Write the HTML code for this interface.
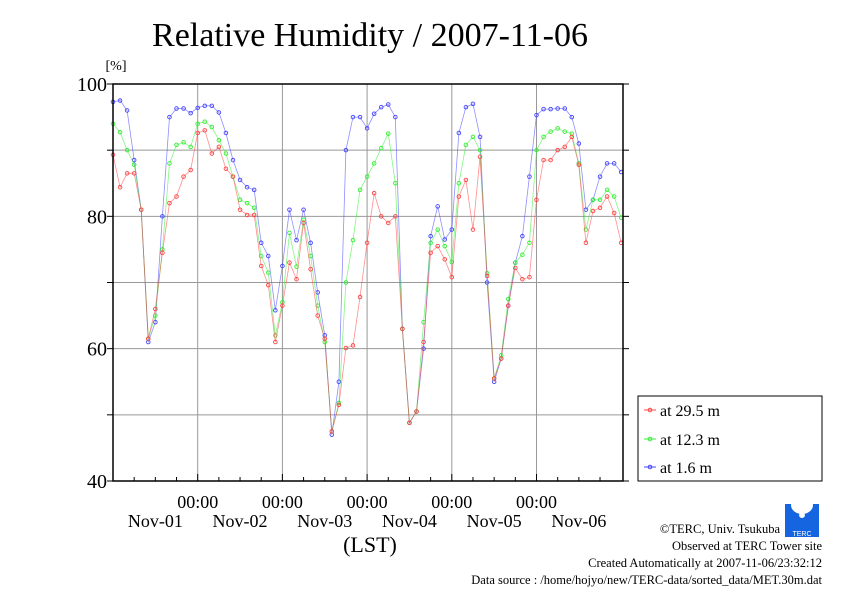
<!DOCTYPE html>
<html><head><meta charset="utf-8"><style>
body{margin:0;background:#fff}
svg text{font-family:"Liberation Serif",serif;fill:#000}
</style></head><body>
<svg id="chart" width="842" height="595" viewBox="0 0 842 595" xmlns="http://www.w3.org/2000/svg">
<rect width="842" height="595" fill="#fff"/>
<text x="370" y="46" font-size="34" text-anchor="middle">Relative Humidity / 2007-11-06</text>
<text x="116" y="70" font-size="14" text-anchor="middle">[%]</text>
<g id="grid"></g>
<g id="series"></g>
<rect x="113" y="84" width="510" height="397" fill="none" stroke="#000" stroke-width="1.5"/>
<g id="axes"></g>
<text x="370" y="552" font-size="22" text-anchor="middle">(LST)</text>
<g>
<rect x="638" y="396" width="184" height="85" fill="#fff" stroke="#000" stroke-width="1"/>
<g><line x1="644" y1="410" x2="656" y2="410" stroke="#f44" stroke-width="1"/><circle cx="650" cy="410" r="1.8" fill="none" stroke="#f44"/><text x="660" y="416" font-size="16">at 29.5 m</text></g>
<g><line x1="644" y1="439" x2="656" y2="439" stroke="#3e3" stroke-width="1"/><circle cx="650" cy="439" r="1.8" fill="none" stroke="#3e3"/><text x="660" y="445" font-size="16">at 12.3 m</text></g>
<g><line x1="644" y1="467" x2="656" y2="467" stroke="#44f" stroke-width="1"/><circle cx="650" cy="467" r="1.8" fill="none" stroke="#44f"/><text x="660" y="473" font-size="16">at 1.6 m</text></g>
</g>
<g>
<rect x="785" y="504" width="34" height="33" fill="#1565e0"/>
<ellipse cx="802" cy="505" rx="11" ry="9" fill="#fff"/>
<path d="M802 509 l-3 6 a3 3 0 0 0 6 0z" fill="#fff"/>
<text x="802" y="536" font-size="7" text-anchor="middle" style="fill:#fff;font-family:'Liberation Sans',sans-serif">TERC</text>
</g>
<g font-size="12.5" text-anchor="end">
<text x="780" y="533">©TERC, Univ. Tsukuba</text>
<text x="822" y="550">Observed at TERC Tower site</text>
<text x="822" y="567">Created Automatically at 2007-11-06/23:32:12</text>
<text x="822" y="584">Data source : /home/hojyo/new/TERC-data/sorted_data/MET.30m.dat</text>
</g>
</svg>
<script>
const hours = [0,2,4,6,8,10,12,14,16,18,20,22,24,26,28,30,32,34,36,38,40,42,44,46,48,50,52,54,56,58,60,62,64,66,68,70,72,74,76,78,80,82,84,86,88,90,92,94,96,98,100,102,104,106,108,110,112,114,116,118,120,122,124,126,128,130,132,134,136,138,140,142,144];
const rh295 = [89.3,84.4,86.5,86.5,81,61.5,66,74.5,82,83,86,87,92.6,93,89.5,90.5,87.2,86,81,80.2,80.2,72.5,69.6,61,66.5,73,70.5,79,72,65,61.5,47.5,51.5,60.1,60.5,67.8,76,83.5,80,79,80,63,48.8,50.5,61,74.5,75.5,73.5,70.8,83,85.5,78,89,71,55.5,58.5,66.5,72.2,70.5,70.8,82.5,88.5,88.5,90,90.5,92,87.8,76,80.8,81.3,83,80.5,76];
const rh123 = [94,92.7,90,87.8,81,61.5,65,75,88,90.8,91.2,90.5,94,94.3,93.5,91.5,89.5,86,82.5,82,81.3,74,71.5,62,67,77.5,72.4,79.5,74,66.5,61,47.5,51.8,70,76.4,84,86,88,90.3,92.5,85,63,48.8,50.5,64,76,78,75.5,73.1,85,90.8,92,90,71.4,55.5,59,67.5,73,74.2,76,90,92,92.8,93.3,92.8,92.5,88,78,82.5,82.5,84,83,79.8];
const rh16 = [97.3,97.5,96,88.5,81,61,64,80,95,96.3,96.3,95.6,96.4,96.7,96.7,95.7,92.6,88.5,85.5,84.4,84,76,74,65.8,72.5,81,76.4,81,76,68.5,62,47,55,90,95,95,93.3,95.5,96.5,96.9,95,63,48.8,50.5,60,77,81.5,76.5,78,92.6,96.5,97,92,70,55,58.5,66.5,73,77,86,95.3,96.2,96.2,96.3,96.3,95,91,81,82.5,86,88,88,86.7];
const yTicks = [40,50,60,70,80,90,100];
const yTickLabels = ["40","","60","","80","","100"];
const xTickHours = [24,48,72,96,120];
const dayLabels = ["Nov-01","Nov-02","Nov-03","Nov-04","Nov-05","Nov-06"];

const NS="http://www.w3.org/2000/svg";
const X0=113,X1=623,Y0=481,Y1=84;
const pxPerDay=84.7;
function xs(h){return X0+h*pxPerDay/24;}
function ys(v){return Y0-(v-40)*(Y0-Y1)/60;}
function mk(tag,attrs,parent){const e=document.createElementNS(NS,tag);for(const k in attrs)e.setAttribute(k,attrs[k]);parent.appendChild(e);return e;}
const grid=document.getElementById('grid'),axes=document.getElementById('axes'),ser=document.getElementById('series');
yTicks.forEach((t,i)=>{
  if(t>40&&t<100){const l=mk('line',{x1:X0,x2:X1,y1:ys(t),y2:ys(t),stroke:'#999','stroke-width':1},grid);
  
  }
  const tk=mk('line',{x1:X0-6,x2:X0,y1:ys(t),y2:ys(t),stroke:'#000'},axes);
  
  
  const tk2=mk('line',{x1:X1,x2:X1+6,y1:ys(t),y2:ys(t),stroke:'#000'},axes);
  
  
  if(yTickLabels[i]){const tx=mk('text',{x:X0-6,y:ys(t)+7,'font-size':20,'text-anchor':'end'},axes);tx.textContent=yTickLabels[i];
  
  }
});
xTickHours.forEach(h=>{
  const l=mk('line',{x1:xs(h),x2:xs(h),y1:Y1,y2:Y0,stroke:'#999','stroke-width':1},grid);
  
  
  const tx=mk('text',{x:xs(h),y:508,'font-size':18,'text-anchor':'middle'},axes);tx.textContent='00:00';
  
  
});
for(let h=6;h<144;h+=6){const t=mk('line',{x1:xs(h),x2:xs(h),y1:Y0-(h%24?4:7),y2:Y0,stroke:'#000'},axes);
  
  }
dayLabels.forEach((d,i)=>{const tx=mk('text',{x:xs(i*24+12),y:527,'font-size':18,'text-anchor':'middle'},axes);tx.textContent=d;
  
  });
function drawSeries(vals,color,name){
  const g=mk('g',{},ser);
  
  
  const pts=vals.map((v,i)=>xs(hours[i]).toFixed(1)+','+ys(v).toFixed(1)).join(' ');
  mk('polyline',{points:pts,fill:'none',stroke:color,'stroke-width':0.8,'stroke-opacity':0.6},g);
  vals.forEach((v,i)=>{const c=mk('circle',{cx:xs(hours[i]),cy:ys(v),r:1.8,fill:'none',stroke:color,'stroke-width':0.9},g);
    
    });
}
drawSeries(rh16,'#44f','series-1-6m');
drawSeries(rh123,'#3e3','series-12-3m');
drawSeries(rh295,'#f44','series-29-5m');
</script>
</body></html>
